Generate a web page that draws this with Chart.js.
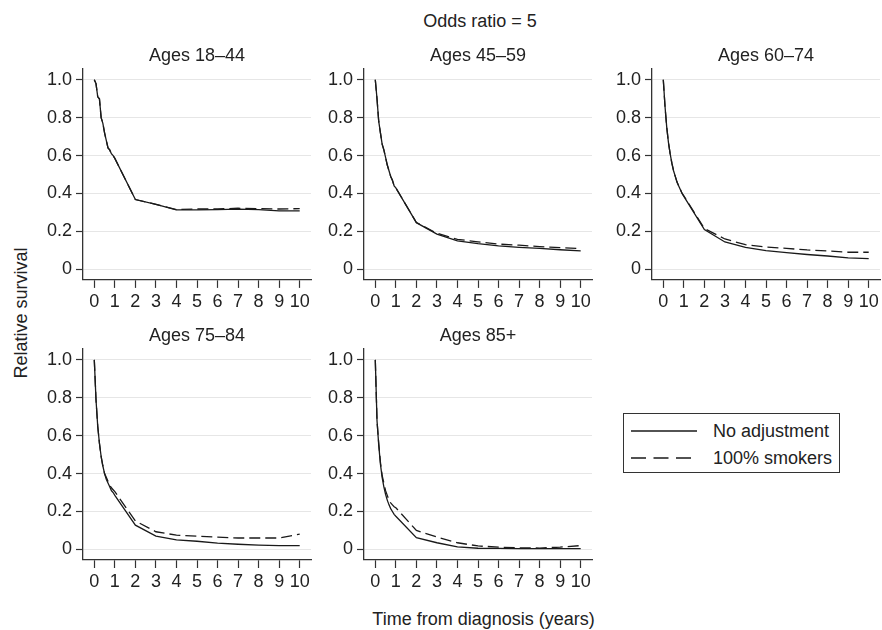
<!DOCTYPE html>
<html>
<head>
<meta charset="utf-8">
<script src="https://cdn.jsdelivr.net/npm/chart.js@4.4.1/dist/chart.umd.min.js"></script>
<style>
  html, body { margin:0; padding:0; background:#fff; overflow:hidden; }
  body { width:882px; height:630px; position:relative; font-family:"Liberation Sans", Arial, Helvetica, sans-serif; color:#222; }
  .lbl { position:absolute; font-size:18px; white-space:nowrap; line-height:1; }
  .panel { position:absolute; }
  #legend { position:absolute; left:623px; top:413px; width:215px; height:58px; border:1.3px solid #333; }
  #legend .row { position:absolute; left:0; width:100%; height:20px; }
  #legend svg { position:absolute; left:6px; top:0; }
  #legend span { position:absolute; left:89px; top:1px; font-size:18px; line-height:18px; }
</style>
</head>
<body>
<div class="lbl" id="mainTitle" style="left:480px; top:21px; transform:translate(-50%,-50%);">Odds ratio = 5</div>
<div class="lbl" id="yTitle" style="left:20.5px; top:313px; transform:translate(-50%,-50%) rotate(-90deg);">Relative survival</div>
<div class="lbl" id="xTitle" style="left:483.5px; top:619px; transform:translate(-50%,-50%);">Time from diagnosis (years)</div>

<div id="legend">
  <div class="row" style="top:7px;">
    <svg width="70" height="20"><line x1="1" y1="10" x2="67" y2="10" stroke="#1a1a1a" stroke-width="1.3"/></svg>
    <span>No adjustment</span>
  </div>
  <div class="row" style="top:34px;">
    <svg width="70" height="20"><line x1="1" y1="10" x2="67" y2="10" stroke="#1a1a1a" stroke-width="1.3" stroke-dasharray="15,7.5"/></svg>
    <span>100% smokers</span>
  </div>
</div>

<script>
// ---- data ----
const times = [0, 0.083, 0.167, 0.25, 0.333, 0.417, 0.5, 0.583, 0.667, 0.75, 0.833, 0.917, 1, 2, 3, 4, 5, 6, 7, 8, 9, 10];
const xTickValues = [0,1,2,3,4,5,6,7,8,9,10];
const yTickValues = [0, 0.2, 0.4, 0.6, 0.8, 1.0];
const yTickLabels = ["0", "0.2", "0.4", "0.6", "0.8", "1.0"];
const seriesNames = ["No adjustment", "100% smokers"];
const panelTitles = ["Ages 18–44", "Ages 45–59", "Ages 60–74", "Ages 75–84", "Ages 85+"];

const noAdj18_44  = [1.0, 0.98, 0.91, 0.90, 0.80, 0.77, 0.72, 0.68, 0.64, 0.63, 0.61, 0.60, 0.585, 0.368, 0.343, 0.313, 0.313, 0.315, 0.317, 0.315, 0.308, 0.308];
const smoke18_44  = [1.0, 0.98, 0.91, 0.90, 0.80, 0.77, 0.72, 0.68, 0.64, 0.63, 0.61, 0.60, 0.585, 0.368, 0.343, 0.315, 0.318, 0.318, 0.322, 0.320, 0.318, 0.320];
const noAdj45_59  = [1.0, 0.90, 0.78, 0.72, 0.66, 0.63, 0.59, 0.55, 0.52, 0.49, 0.47, 0.44, 0.43, 0.246, 0.186, 0.150, 0.135, 0.123, 0.116, 0.110, 0.103, 0.097];
const smoke45_59  = [1.0, 0.90, 0.78, 0.72, 0.66, 0.63, 0.59, 0.55, 0.52, 0.49, 0.47, 0.44, 0.43, 0.247, 0.190, 0.158, 0.145, 0.133, 0.127, 0.120, 0.114, 0.110];
const noAdj60_74  = [1.0, 0.86, 0.75, 0.67, 0.61, 0.56, 0.52, 0.49, 0.46, 0.44, 0.42, 0.40, 0.385, 0.210, 0.144, 0.116, 0.098, 0.088, 0.078, 0.070, 0.060, 0.056];
const smoke60_74  = [1.0, 0.86, 0.75, 0.67, 0.61, 0.56, 0.52, 0.49, 0.46, 0.44, 0.42, 0.40, 0.388, 0.215, 0.160, 0.130, 0.118, 0.110, 0.102, 0.097, 0.090, 0.090];
const noAdj75_84  = [1.0, 0.79, 0.65, 0.56, 0.49, 0.44, 0.40, 0.37, 0.35, 0.33, 0.31, 0.30, 0.285, 0.128, 0.070, 0.050, 0.043, 0.033, 0.027, 0.023, 0.020, 0.020];
const smoke75_84  = [1.0, 0.79, 0.65, 0.56, 0.49, 0.44, 0.40, 0.38, 0.36, 0.34, 0.325, 0.315, 0.305, 0.150, 0.093, 0.075, 0.070, 0.065, 0.060, 0.060, 0.060, 0.081];
const noAdj85     = [1.0, 0.68, 0.55, 0.45, 0.38, 0.33, 0.29, 0.26, 0.235, 0.215, 0.20, 0.185, 0.175, 0.062, 0.035, 0.013, 0.006, 0.005, 0.004, 0.004, 0.004, 0.004];
const smoke85     = [1.0, 0.68, 0.56, 0.46, 0.39, 0.35, 0.31, 0.285, 0.26, 0.245, 0.235, 0.225, 0.220, 0.100, 0.065, 0.035, 0.018, 0.012, 0.008, 0.007, 0.012, 0.020];

// ---- layout ----
const X_MIN = -0.55, X_MAX = 10.55, Y_MIN = -0.056, Y_MAX = 1.06;
const PLOT_W = 228, PLOT_H = 211.5, YAXIS_W = 80, RIGHT_PAD = 10;
const TITLE_SIZE = 18, TITLE_BLOCK = TITLE_SIZE * 1.2 + 2;
const panels = [
  { title: panelTitles[0], left: 83,  top: 68.4,  a: noAdj18_44, b: smoke18_44 },
  { title: panelTitles[1], left: 364, top: 68.4,  a: noAdj45_59, b: smoke45_59 },
  { title: panelTitles[2], left: 652, top: 68.4,  a: noAdj60_74, b: smoke60_74 },
  { title: panelTitles[3], left: 83,  top: 348.5, a: noAdj75_84, b: smoke75_84 },
  { title: panelTitles[4], left: 364, top: 348.5, a: noAdj85,    b: smoke85 }
];

const FONT = { family: '"Liberation Sans", Arial, Helvetica, sans-serif', size: 18 };
const INK = '#1a1a1a';

panels.forEach((p, i) => {
  const canvasTop = Math.floor(p.top - TITLE_BLOCK - 3);
  const padTop = p.top - TITLE_BLOCK - canvasTop;
  const canvasLeft = p.left - YAXIS_W;
  const cw = YAXIS_W + PLOT_W + RIGHT_PAD;
  const ch = Math.ceil(padTop + TITLE_BLOCK + PLOT_H + 42);
  const xAxisH = ch - padTop - TITLE_BLOCK - PLOT_H;

  const div = document.createElement('div');
  div.className = 'panel';
  div.style.left = canvasLeft + 'px';
  div.style.top = canvasTop + 'px';
  div.style.width = cw + 'px';
  div.style.height = ch + 'px';
  const cv = document.createElement('canvas');
  cv.width = cw; cv.height = ch;
  cv.style.width = cw + 'px'; cv.style.height = ch + 'px';
  div.appendChild(cv);
  document.body.appendChild(div);

  new Chart(cv.getContext('2d'), {
    type: 'line',
    data: {
      datasets: [
        { label: seriesNames[1], data: times.map((t, k) => ({ x: t, y: p.b[k] })),
          borderColor: INK, borderWidth: 1.3, borderDash: [11, 5], pointRadius: 0, fill: false, tension: 0 },
        { label: seriesNames[0], data: times.map((t, k) => ({ x: t, y: p.a[k] })),
          borderColor: INK, borderWidth: 1.3, pointRadius: 0, fill: false, tension: 0 }
      ]
    },
    options: {
      responsive: false,
      animation: false,
      devicePixelRatio: 1,
      layout: { padding: { top: padTop, left: 0, right: RIGHT_PAD, bottom: 0 } },
      plugins: {
        legend: { display: false },
        tooltip: { enabled: false },
        title: {
          display: true, text: p.title, fullSize: false, color: '#222',
          font: { family: FONT.family, size: TITLE_SIZE, weight: 'normal', lineHeight: 1.2 },
          padding: { top: 0, bottom: 2 }
        }
      },
      scales: {
        x: {
          type: 'linear', min: X_MIN, max: X_MAX,
          afterFit: s => { s.height = xAxisH; },
          afterBuildTicks: s => { s.ticks = xTickValues.map(v => ({ value: v })); },
          ticks: { color: '#222', font: FONT, padding: 3, maxRotation: 0, autoSkip: false,
                   callback: v => String(v) },
          grid: { drawOnChartArea: false, drawTicks: true, tickLength: 8, tickColor: '#333', tickWidth: 1.2 },
          border: { display: true, color: '#333', width: 1.3 }
        },
        y: {
          type: 'linear', min: Y_MIN, max: Y_MAX,
          afterFit: s => { s.width = YAXIS_W; },
          afterBuildTicks: s => { s.ticks = yTickValues.map(v => ({ value: v })); },
          ticks: { color: '#222', font: FONT, padding: 4, autoSkip: false,
                   callback: v => { const k = yTickValues.findIndex(t => Math.abs(t - v) < 1e-9); return k >= 0 ? yTickLabels[k] : ''; } },
          grid: { color: '#e6e6e6', lineWidth: 1, drawTicks: true, tickLength: 7, tickColor: '#333', tickWidth: 1.2 },
          border: { display: true, color: '#333', width: 1.3 }
        }
      }
    }
  });
});
</script>
</body>
</html>
